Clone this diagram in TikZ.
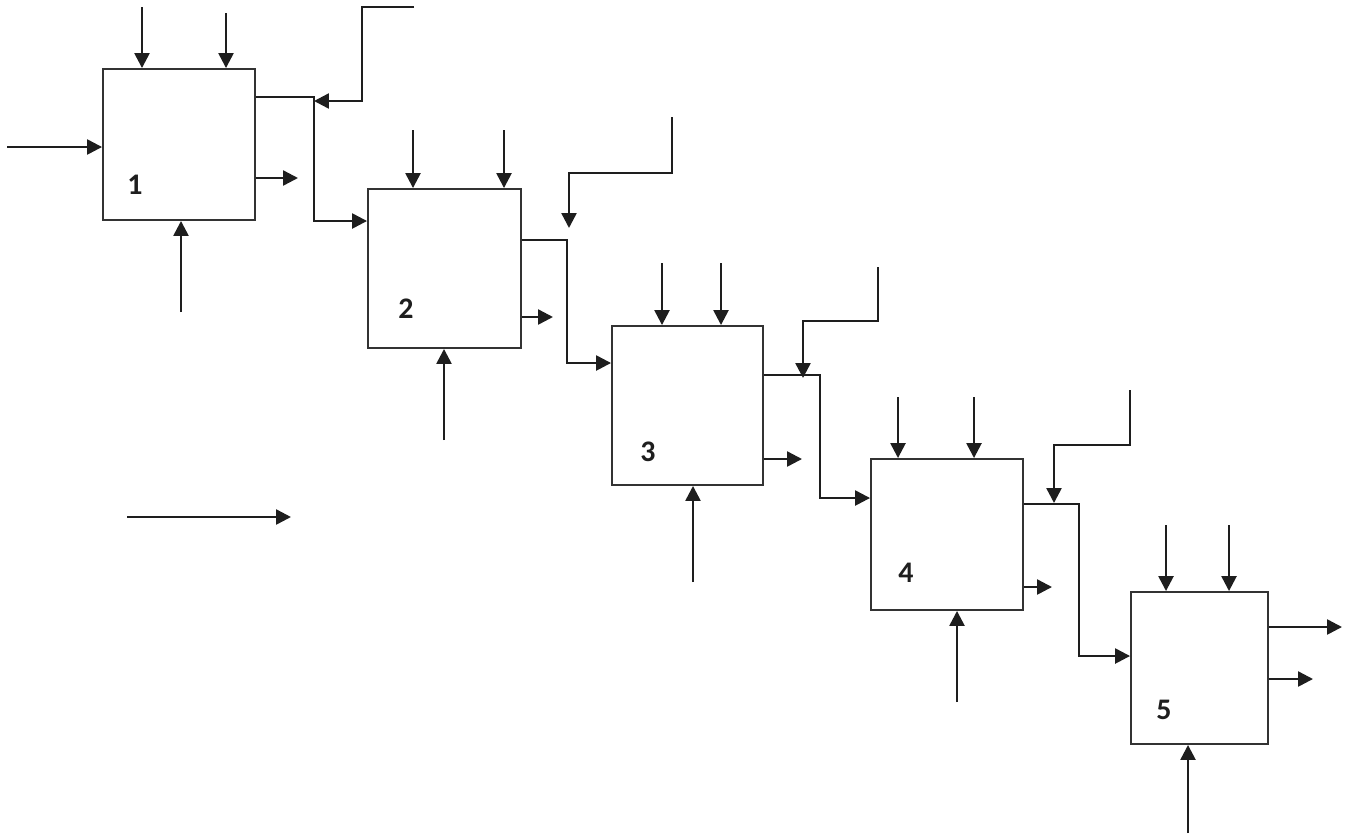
\documentclass[tikz,border=0pt]{standalone}
\usepackage{fontspec}
\setmainfont{Carlito}
\usetikzlibrary{arrows.meta}
\definecolor{ink}{HTML}{1E1E1E}
\definecolor{boxc}{HTML}{333333}
\begin{document}
\begin{tikzpicture}[x=0.02cm,y=-0.02cm,
  proc/.style={draw=boxc,line width=1.1pt,inner sep=0pt},
  arr/.style={draw=ink,line width=1.4pt,-{Triangle[length=8.5pt,width=8.5pt]}},
  lbl/.style={font=\bfseries\fontsize{17}{20}\selectfont,text=ink,inner sep=0pt}]
\useasboundingbox (0,0) rectangle (1354,839);
% boxes
\node[proc,minimum width=3.04cm,minimum height=3.02cm] (b1) at (179,144.5) {};
\node[proc,minimum width=3.06cm,minimum height=3.18cm] (b2) at (444.5,268.5) {};
\node[proc,minimum width=3.02cm,minimum height=3.18cm] (b3) at (687.5,405.5) {};
\node[proc,minimum width=3.04cm,minimum height=3.02cm] (b4) at (947,534.5) {};
\node[proc,minimum width=2.74cm,minimum height=3.04cm] (b5) at (1199.5,668) {};
% labels
\node[lbl] (n1) at (135,185) {1};
\node[lbl] (n2) at (406,309) {2};
\node[lbl] (n3) at (648,452) {3};
\node[lbl] (n4) at (906,573) {4};
\node[lbl] (n5) at (1164,710) {5};
% free ends
\coordinate (t1a) at (142,7);   \coordinate (t1b) at (226,13);
\coordinate (i1) at (7,147);    \coordinate (o1) at (298,178);
\coordinate (bt1) at (181,312);
\coordinate (j1) at (314,97);   \coordinate (k1) at (314,221);
\coordinate (f1) at (414,7);    \coordinate (g1) at (314,101);

\coordinate (t2a) at (413,130); \coordinate (t2b) at (504,130);
\coordinate (o2) at (553,317);  \coordinate (bt2) at (444,440);
\coordinate (j2) at (567,240);  \coordinate (k2) at (567,363);
\coordinate (f2) at (672,117);  \coordinate (g2) at (569,228);

\coordinate (t3a) at (662,263); \coordinate (t3b) at (721,263);
\coordinate (o3) at (802,459);  \coordinate (bt3) at (693,582);
\coordinate (j3) at (820,375);  \coordinate (k3) at (820,498);
\coordinate (f3) at (878,267);  \coordinate (g3) at (803,378);

\coordinate (t4a) at (898,397); \coordinate (t4b) at (974,397);
\coordinate (o4) at (1052,587); \coordinate (bt4) at (957,702);
\coordinate (j4) at (1079,504); \coordinate (k4) at (1079,656);
\coordinate (f4) at (1130,390); \coordinate (g4) at (1054,503);

\coordinate (t5a) at (1166,525); \coordinate (t5b) at (1229,525);
\coordinate (o5a) at (1342,627); \coordinate (o5b) at (1313,679);
\coordinate (bt5) at (1188,833);

\coordinate (sa) at (127,517); \coordinate (sb) at (291,517);

% box 1
\draw[arr] (t1a) -- (t1a |- b1.north);
\draw[arr] (t1b) -- (t1b |- b1.north);
\draw[arr] (i1) -- (i1 -| b1.west);
\draw[arr] (b1.east |- o1) -- (o1);
\draw[arr] (bt1) -- (bt1 |- b1.south);
\draw[arr] (b1.east |- j1) -- (j1) -- (k1) -- (k1 -| b2.west);
\draw[arr] (f1) -- (362,7) -- (362,101) -- (g1);
% box 2
\draw[arr] (t2a) -- (t2a |- b2.north);
\draw[arr] (t2b) -- (t2b |- b2.north);
\draw[arr] (b2.east |- o2) -- (o2);
\draw[arr] (bt2) -- (bt2 |- b2.south);
\draw[arr] (b2.east |- j2) -- (j2) -- (k2) -- (k2 -| b3.west);
\draw[arr] (f2) -- (672,173) -- (569,173) -- (g2);
% box 3
\draw[arr] (t3a) -- (t3a |- b3.north);
\draw[arr] (t3b) -- (t3b |- b3.north);
\draw[arr] (b3.east |- o3) -- (o3);
\draw[arr] (bt3) -- (bt3 |- b3.south);
\draw[arr] (b3.east |- j3) -- (j3) -- (k3) -- (k3 -| b4.west);
\draw[arr] (f3) -- (878,321) -- (803,321) -- (g3);
% box 4
\draw[arr] (t4a) -- (t4a |- b4.north);
\draw[arr] (t4b) -- (t4b |- b4.north);
\draw[arr] (b4.east |- o4) -- (o4);
\draw[arr] (bt4) -- (bt4 |- b4.south);
\draw[arr] (b4.east |- j4) -- (j4) -- (k4) -- (k4 -| b5.west);
\draw[arr] (f4) -- (1130,445) -- (1054,445) -- (g4);
% box 5
\draw[arr] (t5a) -- (t5a |- b5.north);
\draw[arr] (t5b) -- (t5b |- b5.north);
\draw[arr] (b5.east |- o5a) -- (o5a);
\draw[arr] (b5.east |- o5b) -- (o5b);
\draw[arr] (bt5) -- (bt5 |- b5.south);
% standalone arrow
\draw[arr] (sa) -- (sb);
\end{tikzpicture}
\end{document}
